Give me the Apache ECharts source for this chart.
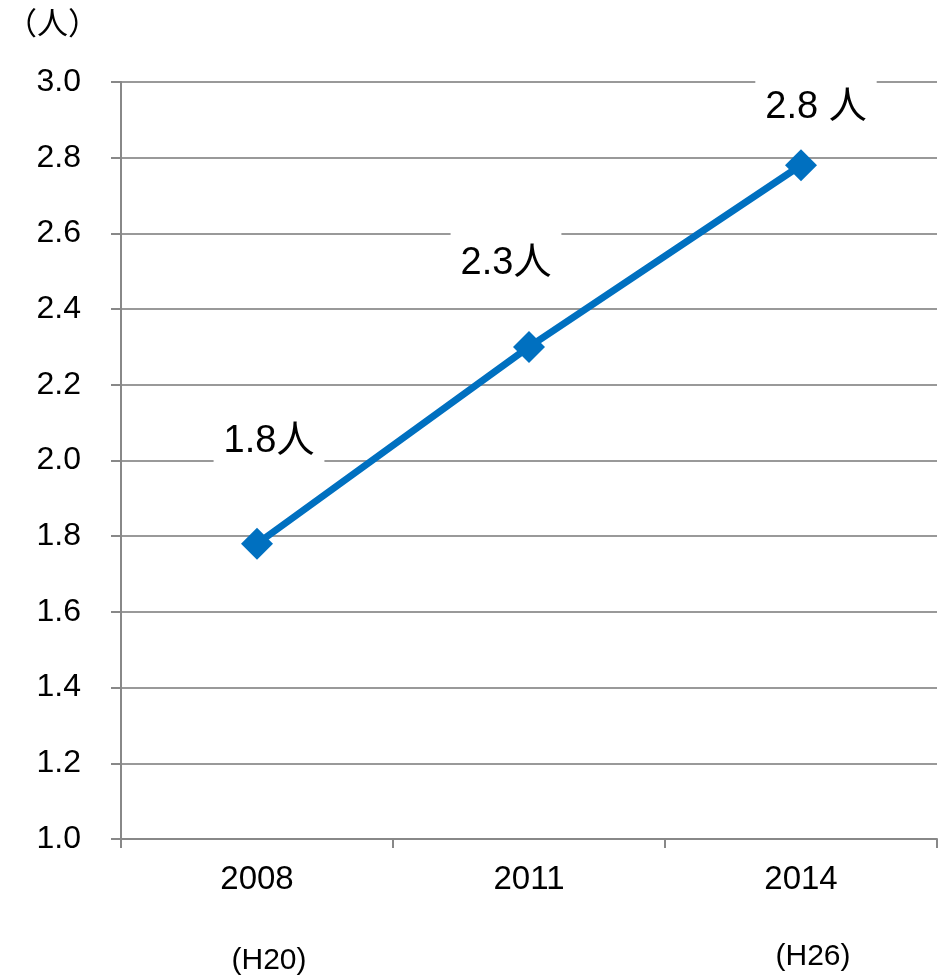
<!DOCTYPE html>
<html><head><meta charset="utf-8">
<script src="https://cdn.jsdelivr.net/npm/echarts@6/dist/echarts.min.js"></script>
<style>html,body{margin:0;padding:0;background:#fff}#c{width:948px;height:978px}</style>
</head><body><div id="c"></div>
<script>
const categories = ['2008', '2011', '2014'];
const values = [1.78, 2.30, 2.78];
const pointLabels = ['1.8人', '2.3人', '2.8 人'];
const yTicks = [1.0, 1.2, 1.4, 1.6, 1.8, 2.0, 2.2, 2.4, 2.6, 2.8, 3.0];
const eraLabels = [{cat: '2008', text: '(H20)'}, {cat: '2014', text: '(H26)'}];
const unitLabel = '（人）';

const FONT = '"Liberation Sans", Arial, "Noto Sans CJK JP", sans-serif';
const labelOffsets = [[12, -102], [-23, -83], [15, -58]];
const chart = echarts.init(document.getElementById('c'));
chart.setOption({
  animation: false,
  grid: {left: 121, right: 11, top: 82, bottom: 139},
  xAxis: {
    type: 'category', data: categories, boundaryGap: true,
    axisLine: {lineStyle: {color: '#888', width: 2}},
    axisTick: {show: true, length: 9, lineStyle: {color: '#888', width: 2}},
    axisLabel: {color: '#000', fontSize: 33, fontFamily: FONT, margin: 24}
  },
  yAxis: {
    type: 'value', min: yTicks[0], max: yTicks[yTicks.length - 1], interval: 0.2,
    axisLine: {show: true, lineStyle: {color: '#888', width: 2}},
    axisTick: {show: true, length: 10, lineStyle: {color: '#888', width: 2}},
    splitLine: {lineStyle: {color: '#999', width: 2}},
    axisLabel: {color: '#000', fontSize: 32, fontFamily: FONT, margin: 40,
      formatter: v => v.toFixed(1)}
  },
  series: [{
    type: 'line', data: values.map((v, i) => ({
      value: v,
      label: {show: true, formatter: pointLabels[i], position: 'inside', offset: labelOffsets[i]}
    })),
    lineStyle: {color: '#0070C0', width: 7},
    itemStyle: {color: '#0070C0'},
    symbol: 'diamond', symbolSize: 32, showSymbol: true,
    label: {color: '#000', fontSize: 38, fontFamily: FONT, backgroundColor: '#fff',
      padding: [16, 10]},
    z: 3
  }]
});
const gfx = [{type: 'text', left: 6, top: 10, style: {text: unitLabel, fontSize: 31, fontFamily: FONT, fill: '#000'}}];
const eraDy = {'(H20)': 122, '(H26)': 118};
const eraDx = {'(H20)': 12, '(H26)': 12};
eraLabels.forEach(e => {
  const p = chart.convertToPixel({xAxisIndex: 0, yAxisIndex: 0}, [e.cat, yTicks[0]]);
  gfx.push({type: 'text', x: p[0] + eraDx[e.text], y: p[1] + eraDy[e.text],
    style: {text: e.text, fontSize: 30, fontFamily: FONT, fill: '#000', align: 'center', verticalAlign: 'middle'}});
});
chart.setOption({graphic: gfx});
</script></body></html>
